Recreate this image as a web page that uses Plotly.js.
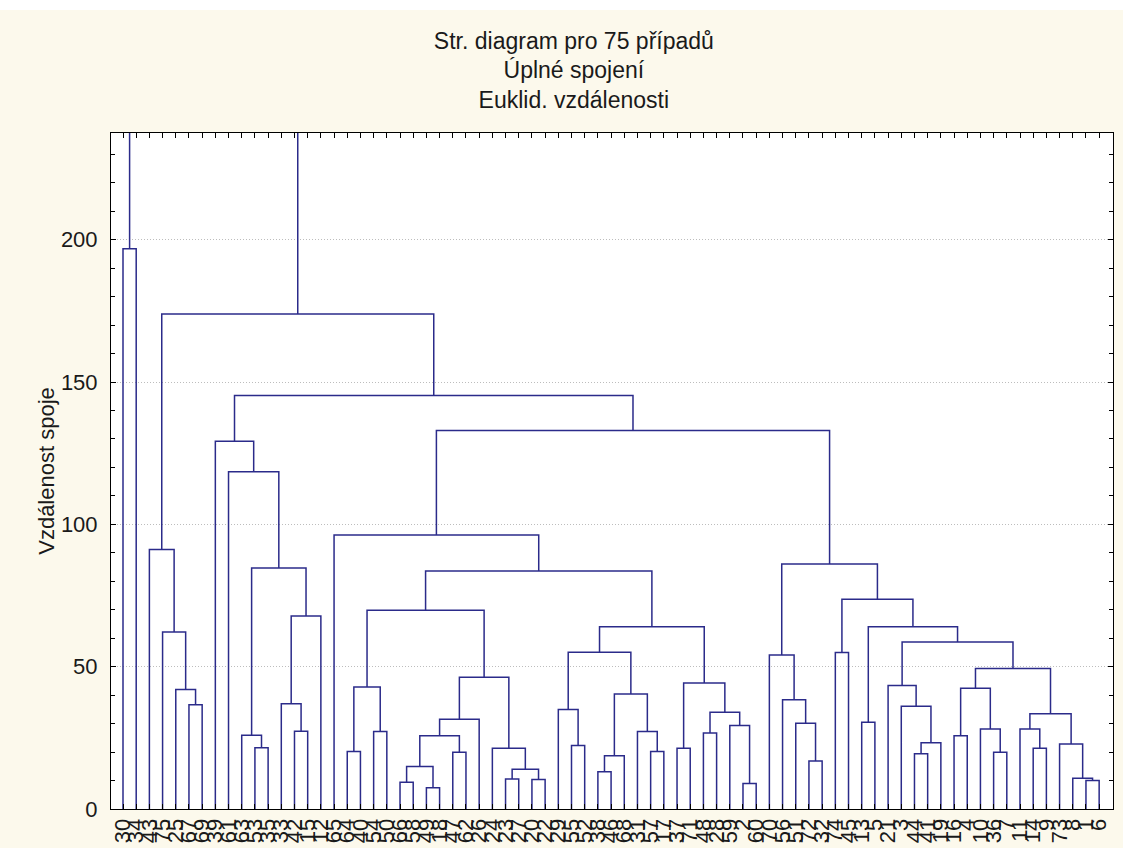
<!DOCTYPE html>
<html>
<head>
<meta charset="utf-8">
<script src="https://cdn.plot.ly/plotly-3.0.1.min.js"></script>
<style>
html, body { margin: 0; padding: 0; background: #ffffff; }
#wrap { position: absolute; left: 0; top: 10px; width: 1123px; height: 838px; background: #fcf9ec; }
#chart { width: 1123px; height: 838px; }
</style>
</head>
<body>
<div id="wrap"><div id="chart"></div></div>
<script>
// Leaf (case) numbers in dendrogram order, left to right
const leafCases = [30,34,43,75,25,67,69,39,61,63,53,35,33,42,15,12,65,64,40,54,
                   50,66,58,49,18,47,62,26,24,23,27,20,22,29,55,52,38,46,68,31,
                   57,17,37,71,48,28,59,2,60,70,56,51,72,32,74,45,13,5,21,3,
                   44,41,19,16,4,10,36,7,11,14,9,73,8,1,6];

// Linkage: node ids 0..74 = leaves (in display order), 75+k = merge k
const mergeLeft = [5,4,3,2, 10,9,13,12,82,80,8,7,
                   17,19,87,21,23,90,25,92,94,29,31,96,28,95,89,
                   34,33,36,104,40,39,105,103,42,44,47,46,111,110,109,101,16,
                   52,51,50,49,54,56,60,125,59,58,63,66,65,129,69,68,73,72,71,134,132,128,124,123,122,
                   118,86,78,0,147];
const mergeRight = [6,75,76,77, 11,79,14,81,15,83,84,85,
                    18,20,88,22,24,91,26,93,27,30,32,97,98,99,100,
                    35,102,37,38,41,106,107,108,43,45,48,112,113,114,115,116,117,
                    53,119,120,121,55,57,61,62,126,127,64,67,130,131,70,133,74,135,136,137,138,139,140,141,142,
                    143,144,145,1,146];
const mergeHeight = [36.6,42.0,62.2,91.2, 21.5,25.9,27.3,37.0,67.8,84.7,118.5,129.2,
                     20.2,27.2,42.9,9.4,7.5,14.9,19.9,25.7,31.5,10.5,10.4,14.0,21.3,46.3,69.8,
                     22.3,35.0,13.1,18.7,20.2,27.2,40.4,55.1,21.3,26.7,9.0,29.3,34.0,44.3,64.0,83.6,96.3,
                     16.9,30.1,38.4,54.1,55.0,30.5,19.4,23.3,36.1,43.4,25.7,19.9,28.1,42.4,21.3,28.1,10.0,10.8,22.8,33.5,49.4,58.7,64.0,73.7,86.1,
                     133.0,145.3,173.9,196.8,255.0];

const yTickValues = [0, 50, 100, 150, 200];
const chartTitle = 'Str. diagram pro 75 případů<br>Úplné spojení<br>Euklid. vzdálenosti';
const yTitle = 'Vzdálenost spoje';

// Build the dendrogram paths
const nLeaves = leafCases.length;
const nodeX = [], nodeH = [];
for (let i = 0; i < nLeaves; i++) { nodeX[i] = i + 1; nodeH[i] = 0; }
const xs = [], ys = [];
for (let k = 0; k < mergeHeight.length; k++) {
  const a = mergeLeft[k], b = mergeRight[k], h = mergeHeight[k];
  xs.push(nodeX[a], nodeX[a], nodeX[b], nodeX[b], null);
  ys.push(nodeH[a], h, h, nodeH[b], null);
  nodeX[nLeaves + k] = (nodeX[a] + nodeX[b]) / 2;
  nodeH[nLeaves + k] = h;
}

const tickvals = leafCases.map((c, i) => i + 1);
const ticktext = leafCases.map(c => String(c));

const trace = {
  type: 'scatter', mode: 'lines', x: xs, y: ys,
  line: { color: '#2b2b8a', width: 1.5 },
  hoverinfo: 'skip', connectgaps: false
};

const fontFam = 'Arial, "Liberation Sans", sans-serif';
const layout = {
  width: 1123, height: 838,
  paper_bgcolor: '#fcf9ec', plot_bgcolor: '#ffffff',
  margin: { l: 111, r: 10, t: 123, b: 39 },
  showlegend: false,
  font: { family: fontFam, size: 22, color: '#1a1a1a' },
  title: {
    text: chartTitle, xref: 'container', x: 0.511, xanchor: 'center',
    yref: 'container', y: 0.954, yanchor: 'top',
    font: { family: fontFam, size: 23, color: '#1a1a1a' }
  },
  xaxis: {
    range: [0.09, 76.05], tickmode: 'array', tickvals: tickvals, ticktext: ticktext,
    tickangle: -90, ticks: 'inside', ticklen: 5, tickcolor: '#000', tickwidth: 1,
    showline: true, linecolor: '#000', linewidth: 1, mirror: 'allticks',
    showgrid: false, zeroline: false, fixedrange: true,
    tickfont: { family: fontFam, size: 22, color: '#1a1a1a' }
  },
  yaxis: {
    range: [0, 237.5], tickmode: 'array', tickvals: yTickValues,
    ticks: 'inside', ticklen: 5, tickcolor: '#000', tickwidth: 1,
    minor: { ticks: 'inside', dtick: 10, ticklen: 4, tickcolor: '#000', showgrid: false },
    showline: true, linecolor: '#000', linewidth: 1, mirror: 'allticks',
    showgrid: true, gridcolor: '#bdbdbd', griddash: '1px,2px', gridwidth: 1,
    zeroline: false, fixedrange: true, ticklabelstandoff: 8,
    tickfont: { family: fontFam, size: 22, color: '#1a1a1a' },
    title: { text: yTitle, font: { family: fontFam, size: 22, color: '#1a1a1a' } }
  }
};

Plotly.newPlot('chart', [trace], layout, { staticPlot: true, displayModeBar: false });
</script>
</body>
</html>
